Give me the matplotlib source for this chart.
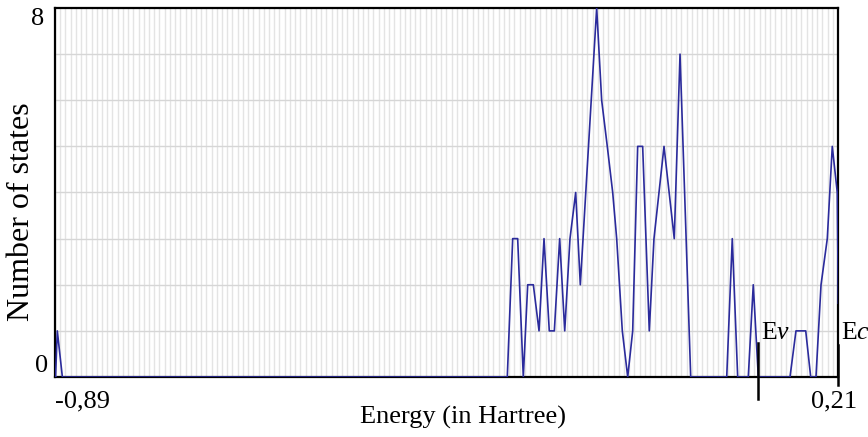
import numpy as np
import matplotlib
matplotlib.use("Agg")
import matplotlib.pyplot as plt

plt.rcParams['font.family'] = ['Liberation Serif', 'DejaVu Serif']
plt.rcParams['mathtext.fontset'] = 'custom'
plt.rcParams['mathtext.rm'] = 'Liberation Serif'
plt.rcParams['mathtext.it'] = 'Liberation Serif:italic'

# density of states (energy in Hartree, number of states)
energy = [-0.8893, -0.8868, -0.8797,
          -0.2546, -0.2470, -0.2400, -0.2321, -0.2259, -0.2180, -0.2100,
          -0.2030, -0.1956, -0.1885, -0.1810, -0.1739, -0.1665, -0.1585,
          -0.1520, -0.1290, -0.1220, -0.1141, -0.1065, -0.1009, -0.0930,
          -0.0854, -0.0784, -0.0714, -0.0644, -0.0551, -0.0485, -0.0344,
          -0.0200, -0.0119, 0.0031,
          0.0537, 0.0615, 0.0691, 0.0840, 0.0910, 0.0981,
          0.1426, 0.1510, 0.1647, 0.1717, 0.1791, 0.1862, 0.1950,
          0.2020, 0.2090, 0.2105]
states = [0, 1, 0,
          0, 3, 3, 0, 2, 2, 1,
          3, 1, 1, 3, 1, 3, 4,
          2, 8, 6, 5, 4, 3, 1,
          0, 1, 5, 5, 1, 3, 5,
          3, 7, 0,
          0, 3, 0, 0, 2, 0,
          0, 1, 1, 0, 0, 2, 3,
          5, 4, 1.6]

e_min, e_max = -0.89, 0.21
e_v, e_c = 0.098, 0.21

fig = plt.figure(figsize=(8.68, 4.37), dpi=100)
ax = fig.add_axes([0.0634, 0.1373, 0.902, 0.8444])

# light grid: fine vertical lines, one horizontal line per state
for xg in np.linspace(e_min, e_max, 151):
    ax.axvline(xg, color='#e4e4e4', lw=1.0, zorder=0)
for yg in range(1, 8):
    ax.axhline(yg, color='#d6d6d6', lw=1.0, zorder=0)

ax.plot(energy, states, color='#2b2b9c', lw=1.2, zorder=3)
ax.plot([e_min, energy[0]], [0, 0], color='#2b2b9c', lw=1.2, zorder=3)

ax.set_xlim(e_min, e_max)
ax.set_ylim(0, 8)
ax.set_xticks([])
ax.set_yticks([])
for s in ax.spines.values():
    s.set_linewidth(1.6)
    s.set_color('black')

# band edge markers
ax.plot([e_v, e_v], [-0.48, 0.74], color='black', lw=1.8, clip_on=False, zorder=4)
ax.plot([e_c, e_c], [-0.17, 0.70], color='black', lw=1.8, clip_on=False, zorder=4)
ax.text(e_v + 0.004, 0.72, r'E$\mathit{v}$', fontsize=18.5, ha='left', va='bottom')
ax.text(e_c + 0.004, 0.72, r'E$\mathit{c}$', fontsize=18.5, ha='left', va='bottom')

# tick texts
ax.text(e_min, -0.3, '-0,89', fontsize=19, ha='left', va='top', clip_on=False)
ax.text(0.2045, -0.3, '0,21', fontsize=19, ha='center', va='top', clip_on=False)
ax.text(-0.9055, 8, '8', fontsize=19, ha='right', va='top')
ax.text(-0.8995, 0, '0', fontsize=19, ha='right', va='bottom')

fig.text(0.533, 0.045, 'Energy (in Hartree)', fontsize=19, ha='center', va='center')
fig.text(0.025, 0.515, 'Number of states', fontsize=23, rotation=90,
         ha='center', va='center')

fig.savefig('out.png', dpi=100)
